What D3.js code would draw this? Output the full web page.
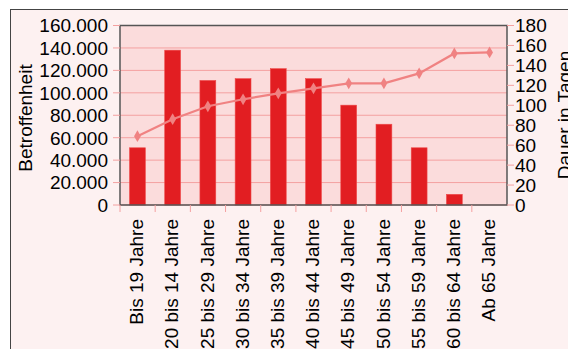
<!DOCTYPE html>
<head>
    <title>Betroffenheit</title>
    <style>
      body { margin: 0; background: #fff; }
      text { font-family: "Liberation Sans", Arial, sans-serif; fill: #000; }
    </style>
</head>
<body>
<script src="https://cdn.jsdelivr.net/npm/d3@7"></script>
<script>

const categories = ["Bis 19 Jahre", "20 bis 14 Jahre", "25 bis 29 Jahre", "30 bis 34 Jahre",
  "35 bis 39 Jahre", "40 bis 44 Jahre", "45 bis 49 Jahre", "50 bis 54 Jahre",
  "55 bis 59 Jahre", "60 bis 64 Jahre", "Ab 65 Jahre"]
const betroffenheit = [51000, 138000, 111000, 112600, 121500, 112600, 89000, 72000, 51000, 9500, 0]
const dauer = [69, 86, 99, 106, 112, 117, 122, 122, 132, 152, 153]
const leftTicks = [0, 20000, 40000, 60000, 80000, 100000, 120000, 140000, 160000]
const rightTicks = [0, 20, 40, 60, 80, 100, 120, 140, 160, 180]

const width = 568
const height = 349
const marginTop = 25.5
const marginRight = 61
const marginBottom = 144
const marginLeft = 120

const svg = d3.select("body").append("svg")
    .attr("width", width)
    .attr("height", height)

// outer frame
svg.append("rect")
    .attr("x", 10.5).attr("y", 9.5)
    .attr("width", width).attr("height", height)
    .attr("fill", "#fdf1f1")
    .attr("stroke", "#444")
    .attr("stroke-width", 1)

const x = d3.scaleBand()
    .domain(categories)
    .range([marginLeft, width - marginRight])
    .paddingInner(0.55)
    .paddingOuter(0.27)

const xb = d3.scaleBand()
    .domain(categories)
    .range([marginLeft, width - marginRight])

const y = d3.scaleLinear()
    .domain([0, 160000])
    .range([height - marginBottom, marginTop])

const y2 = d3.scaleLinear()
    .domain([0, 180])
    .range([height - marginBottom, marginTop])

// plot background
svg.append("rect")
    .attr("x", marginLeft).attr("y", marginTop)
    .attr("width", width - marginRight - marginLeft)
    .attr("height", height - marginBottom - marginTop)
    .attr("fill", "#fbdcdc")

// gridlines
svg.append("g")
  .selectAll("line")
  .data(leftTicks)
  .join("line")
    .attr("x1", marginLeft)
    .attr("x2", width - marginRight)
    .attr("y1", d => y(d))
    .attr("y2", d => y(d))
    .attr("stroke", "#f4a0a0")
    .attr("stroke-width", 1)

// bars
svg.append("g")
  .selectAll("rect")
  .data(betroffenheit)
  .join("rect")
    .attr("x", (d, i) => x(categories[i]))
    .attr("width", x.bandwidth())
    .attr("y", d => y(d))
    .attr("height", d => y(0) - y(d))
    .attr("fill", "#e21e22")
    .attr("stroke", "#ee4a4a")
    .attr("stroke-width", 0.6)

// line
const line = d3.line()
    .x((d, i) => x(categories[i]) + x.bandwidth() / 2)
    .y(d => y2(d))

svg.append("path")
    .datum(dauer)
    .attr("d", line)
    .attr("fill", "none")
    .attr("stroke", "#f08282")
    .attr("stroke-width", 2.2)

svg.append("g")
  .selectAll("path")
  .data(dauer)
  .join("path")
    .attr("d", d3.symbol(d3.symbolDiamond, 40))
    .attr("transform", (d, i) => `translate(${x(categories[i]) + x.bandwidth() / 2},${y2(d)})`)
    .attr("fill", "#f08282")

// plot border
svg.append("rect")
    .attr("x", marginLeft).attr("y", marginTop)
    .attr("width", width - marginRight - marginLeft)
    .attr("height", height - marginBottom - marginTop)
    .attr("fill", "none")
    .attr("stroke", "#555")
    .attr("stroke-width", 1.5)

const tickColor = "#f4a0a0"

// left axis
const gl = svg.append("g")
gl.selectAll("line")
  .data(leftTicks)
  .join("line")
    .attr("x1", marginLeft - 7).attr("x2", marginLeft)
    .attr("y1", d => y(d)).attr("y2", d => y(d))
    .attr("stroke", tickColor)
gl.selectAll("text")
  .data(leftTicks)
  .join("text")
    .attr("x", 108)
    .attr("y", d => y(d))
    .attr("dy", "0.36em")
    .attr("text-anchor", "end")
    .attr("font-size", 19)
    .text(d => d3.format(",")(d).replace(/,/g, "."))

// right axis
const gr = svg.append("g")
gr.selectAll("line")
  .data(rightTicks)
  .join("line")
    .attr("x1", width - marginRight).attr("x2", width - marginRight + 7)
    .attr("y1", d => y2(d)).attr("y2", d => y2(d))
    .attr("stroke", tickColor)
gr.selectAll("text")
  .data(rightTicks)
  .join("text")
    .attr("x", width - marginRight + 8)
    .attr("y", d => y2(d))
    .attr("dy", "0.36em")
    .attr("font-size", 19)
    .text(d => d)

// bottom axis
const gb = svg.append("g")
gb.selectAll("line")
  .data(categories)
  .join("line")
    .attr("x1", d => xb(d)).attr("x2", d => xb(d))
    .attr("y1", y(0)).attr("y2", y(0) + 7)
    .attr("stroke", tickColor)
gb.selectAll("text")
  .data(categories)
  .join("text")
    .attr("transform", d => `translate(${x(d) + x.bandwidth() / 2},219) rotate(-90)`)
    .attr("dy", "0.3em")
    .attr("text-anchor", "end")
    .attr("font-size", 19)
    .text(d => d)

// axis titles
svg.append("text")
    .attr("transform", "translate(32,118) rotate(-90)")
    .attr("text-anchor", "middle")
    .attr("font-size", 19)
    .text("Betroffenheit")

svg.append("text")
    .attr("transform", "translate(571,115) rotate(-90)")
    .attr("text-anchor", "middle")
    .attr("font-size", 19)
    .text("Dauer in Tagen")

</script>
</body>
